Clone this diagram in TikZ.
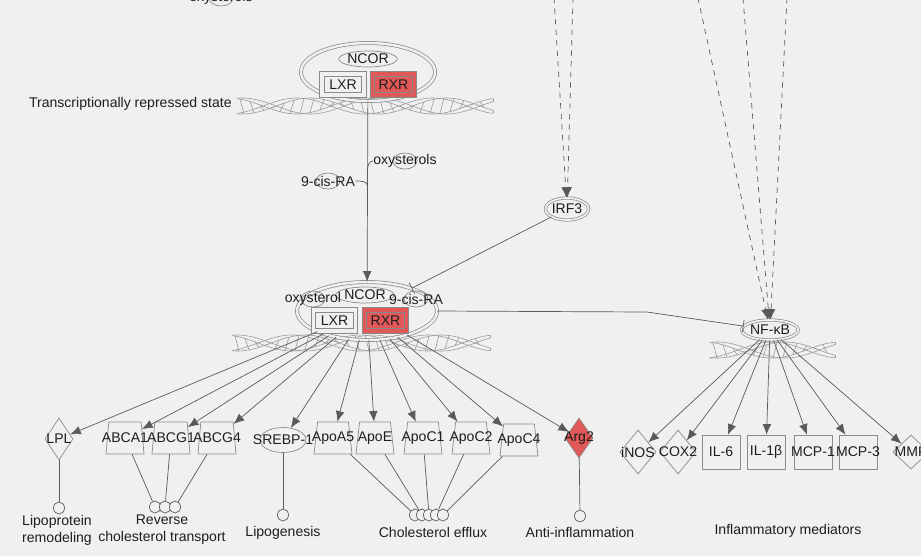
\documentclass[tikz,border=0pt]{standalone}
\usepackage{fontspec}
\setmainfont{Liberation Sans}
\usetikzlibrary{shapes.geometric, arrows.meta}
\definecolor{bgcol}{HTML}{F0F0F0}
\definecolor{edgecol}{HTML}{5A5A5A}
\definecolor{shapecol}{HTML}{8A8A8A}
\definecolor{txtcol}{HTML}{1E1E1E}
\definecolor{hitred}{HTML}{E05858}
\newcommand{\pxl}{0.02cm}
\def\lbl#1{\makebox[0pt]{#1}}
\tikzset{
  every node/.style={font=\fontsize{8}{9.6}\selectfont, text=txtcol, inner sep=0pt},
  every label/.style={font=\fontsize{8}{9.6}\selectfont, text=txtcol, inner sep=0pt},
  cplx/.style={ellipse, draw=shapecol, double=bgcol, double distance=1.4pt},
  ncor/.style={ellipse, draw=shapecol, fill=bgcol, minimum width=44*\pxl, minimum height=16*\pxl},
  recep/.style={rectangle, draw=shapecol, fill=bgcol, double=bgcol, double distance=2.2pt,
    minimum width=42*\pxl, minimum height=21*\pxl},
  hit/.style={fill=hitred, double=hitred},
  ligand/.style={ellipse, draw=shapecol, minimum width=24*\pxl, minimum height=16*\pxl},
  tf/.style={ellipse, draw=shapecol, fill=bgcol, double=bgcol, double distance=1pt},
  trans/.style={trapezium, trapezium left angle=74, trapezium right angle=74, trapezium stretches body=true,
    draw=shapecol, minimum width=38*\pxl, minimum height=32*\pxl},
  enzyme/.style={diamond, draw=shapecol, minimum width=28*\pxl, minimum height=42*\pxl},
  cytok/.style={rectangle, draw=shapecol, minimum width=38*\pxl, minimum height=34*\pxl},
  proc/.style={ellipse, draw=edgecol, fill=bgcol, minimum width=11*\pxl, minimum height=12*\pxl},
  helixline/.style={draw=shapecol!85, line width=0.35pt}
}
\tikzstyle{arrow} = [draw=edgecol, -{Latex[length=6pt, width=5pt]}]
\tikzstyle{inhib} = [draw=edgecol, -{Bar[width=7pt]}]
\tikzstyle{indirect} = [draw=edgecol, dashed, -{Latex[length=6pt, width=5pt]}]
\tikzstyle{link} = [draw=edgecol]
% #1 x0, #2 x1, #3 y, #4 phase, #5 hatch steps
\newcommand{\helix}[5]{%
  \foreach \s in {1,-1}{
    \foreach \ph in {0,-35}{
      \draw[helixline] plot[domain=#1:#2, samples=90] (\x, {#3+\s*8*sin((\x-#4)/68*180+\ph)});
    }
    \draw[helixline] (#1, {#3+\s*8*sin((#1-#4)/68*180)}) -- (#1, {#3+\s*8*sin((#1-#4)/68*180-35)});
    \draw[helixline] (#2, {#3+\s*8*sin((#2-#4)/68*180)}) -- (#2, {#3+\s*8*sin((#2-#4)/68*180-35)});
  }
  \foreach \k in {0,...,#5}{
    \pgfmathsetmacro\hx{#1+3+10*\k}
    \draw[helixline] (\hx, {#3+8*sin((\hx-#4)/68*180)}) -- ({\hx+4}, {#3-8*sin((\hx+4-#4)/68*180-35)});
  }
}

\begin{document}
\begin{tikzpicture}[x=0.02cm, y=-0.02cm]
  \useasboundingbox (0,0) rectangle (921,556);
  \clip (0,0) rectangle (921,556);
  \fill[bgcol] (0,0) rectangle (921,556);

  % DNA
  \helix{237}{493}{106}{263}{24}
  \helix{232}{490}{343}{258}{24}
  \helix{710}{835}{350}{738}{11}

  % ligand at the top edge
  \node[ligand, label={[name=oxy0t]center:oxysterols}] (oxy0) at (221,-2) {};

  % repressed complex
  \node[anchor=east] (repr) at (232,104) {Transcriptionally repressed state};
  \node[cplx, minimum width=134*\pxl, minimum height=58*\pxl] (cplx1) at (368,72) {};
  \node[ncor] (ncor1) at (368,59) {NCOR};
  \node[recep] (lxr1) at (343,84.5) {LXR};
  \node[recep, hit] (rxr1) at (393.5,84.5) {RXR};

  % ligands
  \node[ligand, label={[name=oxy1t]center:oxysterols}] (oxy1) at (405,161) {};
  \node[ligand, label={[name=cis1t]center:9-cis-RA}] (cis1) at (328,181) {};
  \coordinate (j1) at (367.5,171);
  \coordinate (j2) at (367.5,186);

  % active complex
  \node[cplx, minimum width=140*\pxl, minimum height=58*\pxl] (cplx2) at (367,311) {};
  \node[ncor] (ncor2) at (365,295) {NCOR};
  \node[ligand, label={[name=oxy2t]center:oxysterol}] (oxy2) at (313,299) {};
  \node[ligand, label={[name=cis2t]center:9-cis-RA}] (cis2) at (416,299) {};
  \node[recep] (lxr2) at (334.5,320.5) {LXR};
  \node[recep, hit] (rxr2) at (385.5,320.5) {RXR};

  \draw[arrow] (cplx1) -- (cplx2);
  \draw[link] (oxy1t.west) to[out=180, in=90] (j1);
  \draw[link] (cis1t.east) to[out=0, in=90] (j2);

  % transcription factors
  \node[tf, minimum width=42*\pxl, minimum height=22*\pxl] (irf3) at (567,209) {IRF3};
  \node[tf, minimum width=44*\pxl, minimum height=20*\pxl] (nfkb) at (770,330) {NF-κB};
  \coordinate (src1) at (554,-2);
  \coordinate (src2) at (573,-2);
  \coordinate (src3) at (698,-2);
  \coordinate (src4) at (743,-2);
  \coordinate (src5) at (787,-2);
  \coordinate (kink) at (647,312);
  \draw[indirect] (src1) -- (irf3);
  \draw[indirect] (src2) -- (irf3);
  \draw[indirect] (src3) -- (nfkb);
  \draw[indirect] (src4) -- (nfkb);
  \draw[indirect] (src5) -- (nfkb);
  \draw[inhib] (irf3) -- (cplx2);
  \draw[inhib] (cplx2.east) -- (kink) -- (nfkb);

  % LXR targets
  \node[enzyme] (lpl) at (59,439) {\lbl{LPL}};
  \node[trans] (abca1) at (125,438) {\lbl{ABCA1}};
  \node[trans] (abcg1) at (171,438) {\lbl{ABCG1}};
  \node[trans] (abcg4) at (217,438) {\lbl{ABCG4}};
  \node[ellipse, draw=shapecol, minimum width=46*\pxl, minimum height=25*\pxl] (srebp) at (283,440) {\lbl{SREBP-1}};
  \node[trans] (apoa5) at (333,438) {\lbl{ApoA5}};
  \node[trans] (apoe) at (375,438) {\lbl{ApoE}};
  \node[trans] (apoc1) at (423,438) {\lbl{ApoC1}};
  \node[trans] (apoc2) at (471,438) {\lbl{ApoC2}};
  \node[trans] (apoc4) at (519,440) {\lbl{ApoC4}};
  \node[enzyme, fill=hitred, minimum height=40*\pxl] (arg2) at (579,438) {\lbl{Arg2}};
  \foreach \t in {lpl,abca1,abcg1,abcg4,srebp,apoa5,apoe,apoc1,apoc2,apoc4,arg2}
    \draw[arrow] (cplx2) -- (\t);

  % NF-kB targets
  \node[enzyme, minimum width=36*\pxl, minimum height=44*\pxl] (inos) at (638,452) {\lbl{iNOS}};
  \node[enzyme, minimum width=36*\pxl, minimum height=44*\pxl] (cox2) at (678,452) {\lbl{COX2}};
  \node[cytok] (il6) at (721,452) {\lbl{IL-6}};
  \node[cytok] (il1b) at (766,452) {\lbl{IL-1β}};
  \node[cytok] (mcp1) at (813,452) {\lbl{MCP-1}};
  \node[cytok] (mcp3) at (858,452) {\lbl{MCP-3}};
  \node[enzyme, minimum width=36*\pxl, minimum height=34*\pxl] (mmp) at (911,452) {\lbl{MMP}};
  \foreach \t in {inos,cox2,il6,il1b,mcp1,mcp3,mmp}
    \draw[arrow] (nfkb) -- (\t);

  % processes
  \node[proc] (lipo) at (59,508) {};
  \node[proc] (rct1) at (155,507) {};
  \node[proc] (rct2) at (165,507) {};
  \node[proc] (rct3) at (175,507) {};
  \node[proc] (lipog) at (283,515) {};
  \node[proc] (ce1) at (415,515) {};
  \node[proc] (ce2) at (422,515) {};
  \node[proc] (ce3) at (429,515) {};
  \node[proc] (ce4) at (436,515) {};
  \node[proc] (ce5) at (443,515) {};
  \node[proc] (antiinf) at (580,516) {};
  \draw[link] (lpl) -- (lipo);
  \draw[link] (abca1) -- (rct1);
  \draw[link] (abcg1) -- (rct2);
  \draw[link] (abcg4) -- (rct3);
  \draw[link] (srebp) -- (lipog);
  \draw[link] (apoa5) -- (ce1);
  \draw[link] (apoe) -- (ce2);
  \draw[link] (apoc1) -- (ce3);
  \draw[link] (apoc2) -- (ce4);
  \draw[link] (apoc4) -- (ce5);
  \draw[link] (arg2) -- (antiinf);

  \node[align=center] (lipotxt) at (57,530) {Lipoprotein\\remodeling};
  \node[align=center] (rcttxt) at (162,530) {Reverse\\cholesterol transport};
  \node (lipogtxt) at (283,533) {Lipogenesis};
  \node (cetxt) at (433,532) {Cholesterol efflux};
  \node (antitxt) at (580,532) {Anti-inflammation};
  \node (inflamtxt) at (788,531) {Inflammatory mediators};
\end{tikzpicture}
\end{document}
